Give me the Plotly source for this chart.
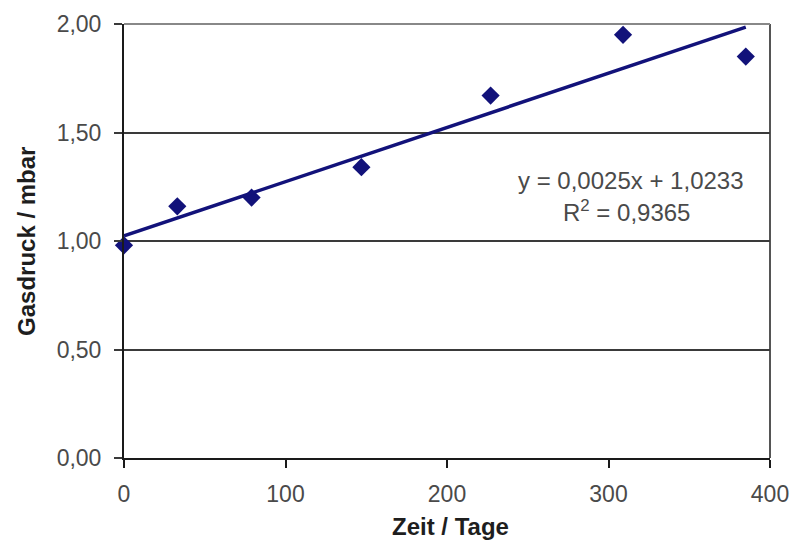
import plotly.graph_objects as go

# Data
zeit_tage = [0, 33, 79, 147, 227, 309, 385]
gasdruck_mbar = [0.98, 1.16, 1.20, 1.34, 1.67, 1.95, 1.85]

# Trendline as stated on the chart
slope = 0.0025
intercept = 1.0233
r_squared = 0.9365
trend_x = [min(zeit_tage), max(zeit_tage)]
trend_y = [intercept + slope * x for x in trend_x]

x_ticks = [0, 100, 200, 300, 400]
y_ticks = [0.0, 0.5, 1.0, 1.5, 2.0]

navy = "#12127a"
font_family = "Liberation Sans, Arial, sans-serif"
tick_color = "#4a4a4a"
title_color = "#1e1e1e"

fig = go.Figure()
fig.add_trace(go.Scatter(
    x=zeit_tage, y=gasdruck_mbar, mode="markers",
    marker=dict(symbol="diamond", size=14, color=navy),
    showlegend=False, cliponaxis=False,
))
fig.add_trace(go.Scatter(
    x=trend_x, y=trend_y, mode="lines",
    line=dict(color=navy, width=3.5),
    showlegend=False, cliponaxis=False,
))

fig.add_annotation(
    x=314, y=1.281, xref="x", yref="y",
    text="y = 0,0025x + 1,0233",
    showarrow=False, xanchor="center", yanchor="middle",
    font=dict(family=font_family, size=24, color=tick_color),
)
fig.add_annotation(
    x=311, y=1.138, xref="x", yref="y",
    text="R<sup>2</sup> = 0,9365",
    showarrow=False, xanchor="center", yanchor="middle",
    font=dict(family=font_family, size=24, color=tick_color),
)

# Axis titles
fig.add_annotation(
    x=-0.150, y=0.498, xref="paper", yref="paper",
    text="<b>Gasdruck / mbar</b>", textangle=-90,
    showarrow=False, xanchor="center", yanchor="middle",
    font=dict(family=font_family, size=24, color=title_color),
)
fig.add_annotation(
    x=0.505, y=-0.157, xref="paper", yref="paper",
    text="<b>Zeit / Tage</b>",
    showarrow=False, xanchor="center", yanchor="middle",
    font=dict(family=font_family, size=24, color=title_color),
)

fig.update_layout(
    width=796, height=541,
    margin=dict(l=124, r=26, t=24, b=83),
    paper_bgcolor="white", plot_bgcolor="white",
    separators=",.",
    font=dict(family=font_family, color=tick_color, size=23),
    xaxis=dict(
        range=[0, 400], tickvals=x_ticks, tickformat="d",
        showgrid=False, zeroline=False, automargin=False,
        showline=True, linecolor="#1a1a1a", linewidth=2,
        ticks="outside", ticklen=8, tickwidth=2, tickcolor="#1a1a1a",
        ticklabelstandoff=6,
        tickfont=dict(size=23, color=tick_color),
    ),
    yaxis=dict(
        range=[0, 2.0], tickvals=y_ticks, tickformat=".2f",
        showgrid=True, gridcolor="#3a3a3a", gridwidth=2,
        zeroline=False, automargin=False,
        showline=True, linecolor="#1a1a1a", linewidth=2,
        ticks="outside", ticklen=8, tickwidth=2, tickcolor="#3a3a3a",
        ticklabelstandoff=8,
        tickfont=dict(size=23, color=tick_color),
    ),
)

# Right and top border of the plot area
fig.add_shape(type="line", xref="paper", yref="paper", x0=1, x1=1, y0=0, y1=1,
              line=dict(color="#555555", width=2), layer="below")
fig.add_shape(type="line", xref="paper", yref="paper", x0=0, x1=1, y0=1, y1=1,
              line=dict(color="#888888", width=2), layer="below")

fig.write_html(
    "out.html",
    config={"displayModeBar": False},
    post_script="document.body.style.margin='0';document.body.style.overflow='hidden';",
)
